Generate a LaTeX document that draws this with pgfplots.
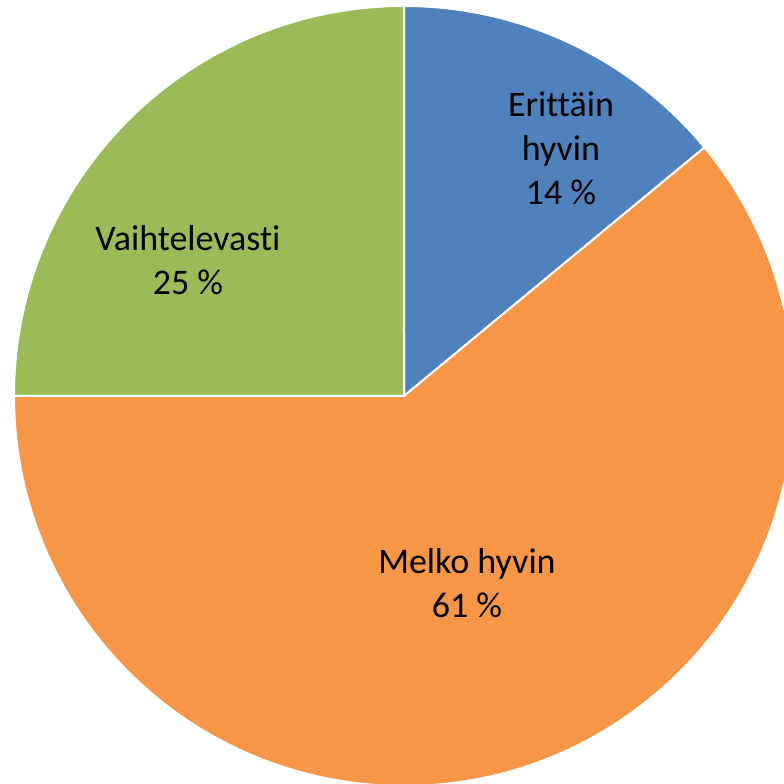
\documentclass[border=0pt]{standalone}
\usepackage{pgfplots}
\pgfplotsset{compat=1.18}
\usepackage{fontspec}
\setmainfont{Carlito}[Ligatures=NoCommon]
\definecolor{slblue}{HTML}{4F81BD}
\definecolor{slorange}{HTML}{F79646}
\definecolor{slgreen}{HTML}{9BBB59}
% shares in percent, clockwise from 12 o'clock
\def\pA{14}\def\pB{61}\def\pC{25}
\tikzset{lbl/.style={font=\fontsize{18}{22}\selectfont, align=center, text=black}}
\begin{document}
\begin{tikzpicture}
\begin{axis}[
  hide axis,
  x=195pt, y=195pt,
  xmin=-1.0359, xmax=0.9744,
  ymin=-0.9949, ymax=1.0154,
  clip=true,
]
\clip (axis cs:-1.0359,-0.9949) rectangle (axis cs:0.9744,1.0154);
\path[fill=slblue, draw=white, line width=1pt]
  (axis cs:0,0) -- (axis cs:0,1)
  arc[start angle=90, end angle={90-\pA*3.6}, radius=195pt] -- cycle;
\path[fill=slorange, draw=white, line width=1pt]
  (axis cs:0,0) -- (axis cs:{cos(90-\pA*3.6)},{sin(90-\pA*3.6)})
  arc[start angle={90-\pA*3.6}, end angle={90-(\pA+\pB)*3.6}, radius=195pt] -- cycle;
\path[fill=slgreen, draw=white, line width=1pt]
  (axis cs:0,0) -- (axis cs:{cos(90-(\pA+\pB)*3.6)},{sin(90-(\pA+\pB)*3.6)})
  arc[start angle={90-(\pA+\pB)*3.6}, end angle={-270}, radius=195pt] -- cycle;
\node[lbl] at (axis cs:0.4026,0.636) {Erittäin\\hyvin\\14 \%};
\node[lbl] at (axis cs:0.1615,-0.479) {Melko hyvin\\61 \%};
\node[lbl] at (axis cs:-0.554,0.349) {Vaihtelevasti\\25 \%};
\end{axis}
\pgfresetboundingbox
\path[use as bounding box] (current axis.south west) rectangle (current axis.north east);
\end{tikzpicture}
\end{document}
